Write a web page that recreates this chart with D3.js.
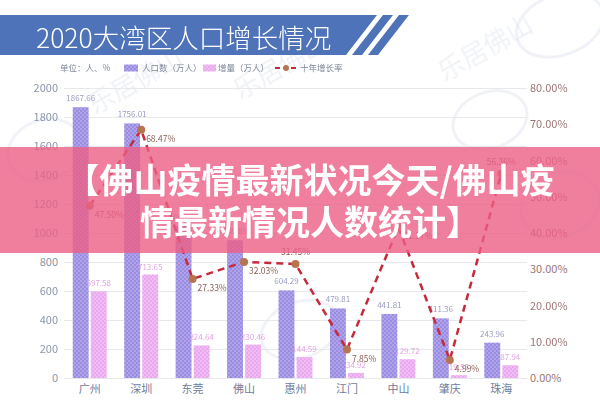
<!DOCTYPE html>
<html><head><meta charset="utf-8">
<script src="https://cdn.jsdelivr.net/npm/d3@7/dist/d3.min.js"></script>
<style>
html,body{margin:0;padding:0;background:#fff;}
svg{display:block;font-family:"Noto Sans CJK SC","Noto Sans",sans-serif;}
</style></head>
<body><svg id="c" width="600" height="400"></svg>
<script>
const categories = ["广州","深圳","东莞","佛山","惠州","江门","中山","肇庆","珠海"];
const population = [1867.66,1756.01,1046.66,949.89,604.29,479.81,441.81,411.36,243.96];
const increment = [597.58,713.65,224.64,230.46,144.59,34.92,129.72,19.55,87.94];
const growthRate = [47.50,68.47,27.33,32.03,31.45,7.85,41.57,4.99,56.36];
const rateLabelSide = ["right","right","right","right","above","right","right","right","above"];
const leftTicks = [0,200,400,600,800,1000,1200,1400,1600,1800,2000];
const rightTicks = [0,10,20,30,40,50,60,70,80];
const titleText = "2020大湾区人口增长情况";
const bannerLines = ["【佛山疫情最新状况今天/佛山疫","情最新情况人数统计】"];
const legendItems = ["人口数（万人）","增量（万人）","十年增长率"];

const svg = d3.select("#c");
const defs = svg.append("defs");
function dots(id, base){
  const p = defs.append("pattern").attr("id",id).attr("patternUnits","userSpaceOnUse")
    .attr("width",4).attr("height",4);
  p.append("rect").attr("width",4).attr("height",4).attr("fill",base);
  p.append("circle").attr("cx",1).attr("cy",1).attr("r",0.75).attr("fill","#ffffff").attr("opacity",0.55);
  p.append("circle").attr("cx",3).attr("cy",3).attr("r",0.75).attr("fill","#ffffff").attr("opacity",0.55);
}
dots("popPat","#9a8be3");
dots("incPat","#eaa9ef");

// faint watermarks
const wm = svg.append("g").attr("fill","none").attr("stroke","#d3dbe8").attr("stroke-width",3).attr("opacity",0.35);
[[45,150,38,30],[560,25,45,30],[560,205,40,32],[300,330,40,28],[490,120,38,28]].forEach(d=>{
  wm.append("ellipse").attr("cx",d[0]).attr("cy",d[1]).attr("rx",d[2]).attr("ry",d[3]).attr("transform",`rotate(-20,${d[0]},${d[1]})`);
});
const wmt = svg.append("g").attr("fill","#d3dbe8").attr("opacity",0.35).attr("font-size",26);
[[95,115],[445,82],[240,100]].forEach(d=>{
  wmt.append("text").attr("x",d[0]).attr("y",d[1]).attr("transform",`rotate(-30,${d[0]},${d[1]})`).text("乐居佛山");
});

// title bar
svg.append("path").attr("d","M0,15 L377,15 L346,55 L0,55 Z").attr("fill","#4f73b8");
svg.append("path").attr("d","M383,15 L393,15 L362,55 L352,55 Z").attr("fill","#4f73b8");
svg.append("path").attr("d","M399,15 L409,15 L378,55 L368,55 Z").attr("fill","#4f73b8");
svg.append("text").attr("x",36).attr("y",48).attr("fill","#fff").attr("font-size",26.5)
  .attr("font-weight",300).text(titleText);

// scales
const pl = 64, pr = 527, pt = 88, pb = 378;
const x = d3.scaleBand().domain(categories).range([pl,pr]).paddingInner(0.34).paddingOuter(0.17);
const xs = d3.scaleBand().domain(["pop","inc"]).range([0,x.bandwidth()]).paddingInner(0.12);
const y = d3.scaleLinear().domain([0,2000]).range([pb,pt]);
const yR = d3.scaleLinear().domain([0,80]).range([pb,pt]);

// grid
const grid = svg.append("g").attr("transform",`translate(${pl},0)`)
  .call(d3.axisLeft(y).tickValues(leftTicks).tickSize(-(pr-pl)).tickFormat(""));
grid.select(".domain").remove();
grid.selectAll("line").attr("stroke","#e6e8ec").attr("stroke-width",1);

// left axis
const ax = svg.append("g").attr("transform",`translate(${pl},0)`)
  .call(d3.axisLeft(y).tickValues(leftTicks).tickSize(0).tickPadding(6).tickFormat(d3.format("d")));
ax.select(".domain").remove();
ax.selectAll("text").attr("fill","#8b95aa").attr("font-size",11).attr("font-family","Noto Sans CJK SC");

// right axis
const axR = svg.append("g").attr("transform",`translate(${pr},0)`)
  .call(d3.axisRight(yR).tickValues(rightTicks).tickSize(0).tickPadding(3).tickFormat(d=>d.toFixed(2)+"%"));
axR.select(".domain").remove();
axR.selectAll("text").attr("fill","#9c7676").attr("font-size",11).attr("font-family","Noto Sans CJK SC");

// bottom axis
const axB = svg.append("g").attr("transform",`translate(0,${pb})`)
  .call(d3.axisBottom(x).tickSize(0).tickPadding(7));
axB.select(".domain").remove();
axB.selectAll("text").attr("fill","#6f7d9a").attr("font-size",11).attr("font-family","Noto Sans CJK SC");

// bars
const g = svg.append("g");
categories.forEach((c,i)=>{
  const x0 = x(c);
  g.append("rect").attr("x",x0+xs("pop")).attr("width",xs.bandwidth())
    .attr("y",y(population[i])).attr("height",pb-y(population[i])).attr("fill","url(#popPat)");
  g.append("rect").attr("x",x0+xs("inc")).attr("width",xs.bandwidth())
    .attr("y",y(increment[i])).attr("height",pb-y(increment[i])).attr("fill","url(#incPat)");
  g.append("text").attr("x",x0+xs("pop")+xs.bandwidth()/2).attr("y",y(population[i])-6)
    .attr("text-anchor","middle").attr("font-size",8).attr("fill","#9a9cc2").text(population[i].toFixed(2));
  g.append("text").attr("x",x0+xs("inc")+xs.bandwidth()/2).attr("y",y(increment[i])-5)
    .attr("text-anchor","middle").attr("font-size",8).attr("fill","#e2a6e0").text(increment[i].toFixed(2));
});

// line
const cx = c => x(c)+x.bandwidth()/2;
const line = d3.line().x((d,i)=>cx(categories[i])).y(d=>yR(d));
svg.append("path").datum(growthRate).attr("d",line).attr("fill","none")
  .attr("stroke","#c52a3c").attr("stroke-width",2.5).attr("stroke-dasharray","7,5");
growthRate.forEach((v,i)=>{
  svg.append("circle").attr("cx",cx(categories[i])).attr("cy",yR(v)).attr("r",4).attr("fill","#b8734f");
  const t = svg.append("text").attr("font-size",8.5).attr("fill","#8a6258").text(v.toFixed(2)+"%");
  if(rateLabelSide[i]==="above"){
    t.attr("x",cx(categories[i])).attr("y",yR(v)-9).attr("text-anchor","middle");
  } else {
    t.attr("x",cx(categories[i])+5).attr("y",yR(v)+12);
  }
});

// legend
const lg = svg.append("g").attr("font-size",8.5).attr("fill","#7d8598");
lg.append("text").attr("x",60).attr("y",71).text("单位：人、%");
lg.append("rect").attr("x",124).attr("y",64.5).attr("width",14).attr("height",7).attr("fill","url(#popPat)");
lg.append("text").attr("x",142).attr("y",71).text(legendItems[0]);
lg.append("rect").attr("x",203).attr("y",64.5).attr("width",13).attr("height",7).attr("fill","url(#incPat)");
lg.append("text").attr("x",218).attr("y",71).text(legendItems[1]);
lg.append("line").attr("x1",275).attr("x2",297).attr("y1",68).attr("y2",68).attr("stroke","#c52a3c").attr("stroke-width",2).attr("stroke-dasharray","5,3");
lg.append("circle").attr("cx",286).attr("cy",68).attr("r",3).attr("fill","#b8734f");
lg.append("text").attr("x",300).attr("y",71).text(legendItems[2]);

// banner
svg.append("rect").attr("x",0).attr("y",147).attr("width",600).attr("height",106)
  .attr("fill","#ec5f85").attr("opacity",0.8);
bannerLines.forEach((s,i)=>{
  svg.append("text").attr("x",310).attr("y",193+i*42).attr("text-anchor","middle")
    .attr("fill","#fff").attr("font-size",34).attr("font-weight",700).text(s);
});
</script></body></html>
